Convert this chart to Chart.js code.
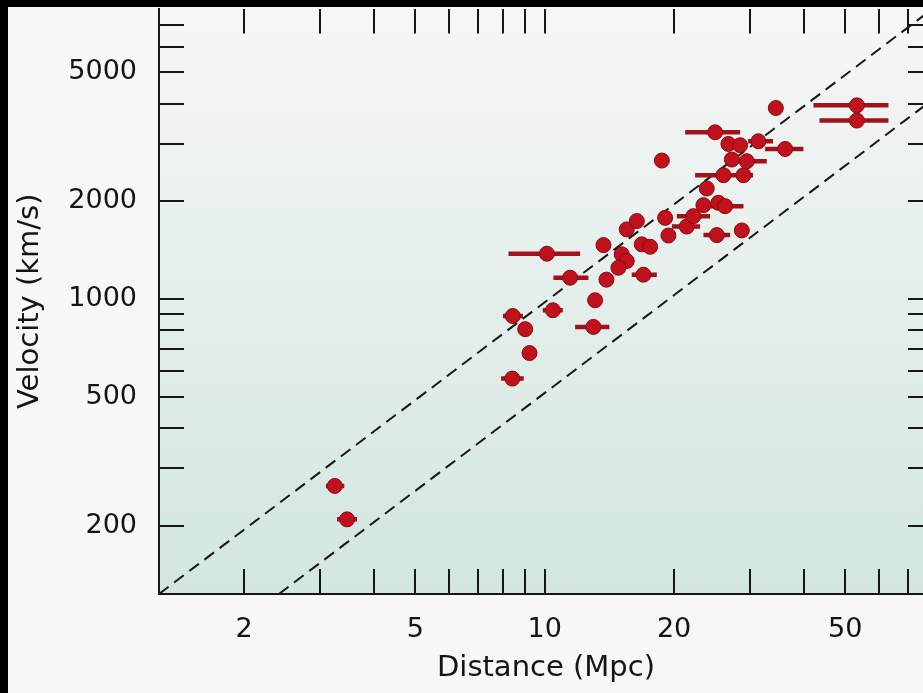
<!DOCTYPE html>
<html>
<head>
<meta charset="utf-8">
<title>Velocity vs Distance</title>
<script src="https://cdn.jsdelivr.net/npm/chart.js@4.4.1/dist/chart.umd.min.js"></script>
<style>
  html, body { margin: 0; padding: 0; background: #000; overflow: hidden; }
  #plot { position: absolute; left: 0; top: 0; }
</style>
</head>
<body>
<canvas id="plot" width="950" height="693"></canvas>
<script>
// galaxias: distancia (Mpc) y velocidad (km/s)
const distancia = [3.25, 3.47, 8.41, 9.22, 9.01, 12.98, 8.43, 10.45, 13.10, 11.46,
    13.92, 16.97, 10.12, 13.70, 15.11, 15.52, 14.84, 16.82, 17.59, 15.52,
    16.38, 19.40, 19.06, 18.73, 21.40, 22.18, 23.40, 23.82, 25.35, 26.28,
    25.14, 28.74, 26.05, 29.00, 27.25, 29.52, 26.75, 28.48, 31.41, 36.25,
    24.91, 34.48, 53.21, 53.21];
const velocidad = [265, 209, 568, 681, 807, 820, 886, 923, 991, 1163,
    1147, 1188, 1379, 1466, 1373, 1309, 1248, 1474, 1449, 1639,
    1739, 1569, 1779, 2673, 1672, 1801, 1947, 2192, 1979, 1933,
    1574, 1627, 2409, 2409, 2692, 2660, 3007, 2980, 3065, 2902,
    3267, 3882, 3956, 3550];
// barras de error horizontales (null = sin barra)
const errMin = [3.10, 3.29, 7.92, null, null, 11.77, 8.0, 9.90, null, 10.48,
    null, 15.94, 8.24, null, null, null, null, null, null, null,
    null, null, null, null, 19.76, 20.29, null, null, null, 23.62,
    23.40, null, 22.38, null, null, 27.74, null, null, 29.72, 32.56,
    21.22, null, 42.17, 43.55];
const errMax = [3.42, 3.66, 8.94, null, null, 14.14, 8.9, 11.02, null, 12.64,
    null, 18.23, 12.09, null, null, null, null, null, null, null,
    null, null, null, null, 22.99, 24.25, null, null, null, 29.00,
    27.00, null, 30.54, null, null, 32.85, null, null, 33.98, 39.96,
    28.48, null, 63.02, 63.02];

// rectas punteadas (extremos)
const rectaAltaD = [1.268, 80];
const rectaAltaV = [123, 7870];
const rectaBajaD = [2.41, 80];
const rectaBajaV = [123, 4130];

// ejes
const xMin = 1.268, xMax = 80;
const yMin = 123, yMax = 7870;
const xTicks = [2, 3, 4, 5, 6, 7, 8, 9, 10, 20, 30, 40, 50, 60, 70];
const xLabels = [2, 5, 10, 20, 50];
const yTicks = [200, 300, 400, 500, 600, 700, 800, 900, 1000, 2000, 3000, 4000, 5000, 6000, 7000];
const yLabels = [200, 500, 1000, 2000, 5000];

const ctx = document.getElementById('plot').getContext('2d');
Chart.defaults.font.family = "'DejaVu Sans', sans-serif";
Chart.defaults.color = '#141414';

const puntos = distancia.map((d, i) => ({ x: d, y: velocidad[i] }));
const barras = [];
distancia.forEach((d, i) => {
    if (errMin[i] === null) return;
    barras.push({ x: errMin[i], y: velocidad[i] });
    barras.push({ x: errMax[i], y: velocidad[i] });
    barras.push({ x: errMax[i], y: null });
});
const recta = (ds, vs) => ds.map((d, i) => ({ x: d, y: vs[i] }));

const fondo = {
    id: 'fondo',
    beforeDraw(chart) {
        const { ctx, chartArea: a, width, height } = chart;
        ctx.save();
        ctx.fillStyle = '#f7f7f6';
        ctx.fillRect(8, 7, width - 8, height - 7);
        const g = ctx.createLinearGradient(0, a.top, 0, a.bottom);
        g.addColorStop(0, '#f6f7f6');
        g.addColorStop(1, '#d2e6df');
        ctx.fillStyle = g;
        ctx.fillRect(a.left, a.top, a.right - a.left, a.bottom - a.top);
        ctx.restore();
    }
};

function ejeX(pos, etiquetas) {
    return {
        type: 'logarithmic', position: pos, min: xMin, max: xMax,
        afterBuildTicks: s => { s.ticks = xTicks.map(v => ({ value: v })); },
        afterFit: s => { s.height = etiquetas ? 99 : 0; s.paddingLeft = 0; s.paddingRight = 0; },
        grid: { drawOnChartArea: false, tickLength: -25, color: '#161616', lineWidth: 2 },
        border: { display: etiquetas, color: '#161616', width: 2 },
        ticks: {
            display: etiquetas, padding: 45, autoSkip: false, maxRotation: 0,
            font: { size: 27 },
            callback: v => xLabels.includes(v) ? String(v) : ''
        },
        title: { display: etiquetas, text: 'Distance (Mpc)', font: { size: 29 }, padding: { top: 0, bottom: 7.6 } }
    };
}

function ejeY(pos, etiquetas) {
    return {
        type: 'logarithmic', position: pos, min: yMin, max: yMax,
        afterBuildTicks: s => { s.ticks = yTicks.map(v => ({ value: v })); },
        afterFit: s => { s.width = etiquetas ? 159 : 0; s.paddingTop = 0; s.paddingBottom = 0; },
        grid: { drawOnChartArea: false, tickLength: -25, color: '#161616', lineWidth: 2 },
        border: { display: etiquetas, color: '#161616', width: 2 },
        ticks: {
            display: etiquetas, padding: 47, autoSkip: false,
            font: { size: 27 },
            callback: v => yLabels.includes(v) ? String(v) : ''
        },
        title: { display: etiquetas, text: 'Velocity (km/s)', font: { size: 29 }, padding: { top: 12.6, bottom: 0 } }
    };
}

new Chart(ctx, {
    type: 'scatter',
    data: {
        datasets: [{
            data: puntos,
            order: 0,
            pointRadius: 7.5,
            pointHoverRadius: 7.5,
            pointBackgroundColor: '#c0111d',
            pointBorderColor: '#8a0a13',
            pointBorderWidth: 1
        }, {
            data: barras,
            order: 1,
            showLine: true,
            spanGaps: false,
            borderColor: '#a0131d',
            borderWidth: 4.5,
            pointRadius: 0
        }, {
            data: recta(rectaAltaD, rectaAltaV),
            order: 2,
            showLine: true,
            borderColor: '#161616',
            borderWidth: 2,
            borderDash: [12, 7],
            pointRadius: 0
        }, {
            data: recta(rectaBajaD, rectaBajaV),
            order: 2,
            showLine: true,
            borderColor: '#161616',
            borderWidth: 2,
            borderDash: [12, 7],
            pointRadius: 0
        }]
    },
    options: {
        responsive: false,
        animation: false,
        events: [],
        layout: { padding: { left: 0, top: 7, right: 17, bottom: 0 } },
        plugins: { legend: { display: false }, tooltip: { enabled: false } },
        scales: {
            x: ejeX('bottom', true),
            x2: ejeX('top', false),
            y: ejeY('left', true),
            y2: ejeY('right', false)
        }
    },
    plugins: [fondo]
});
</script>
</body>
</html>
